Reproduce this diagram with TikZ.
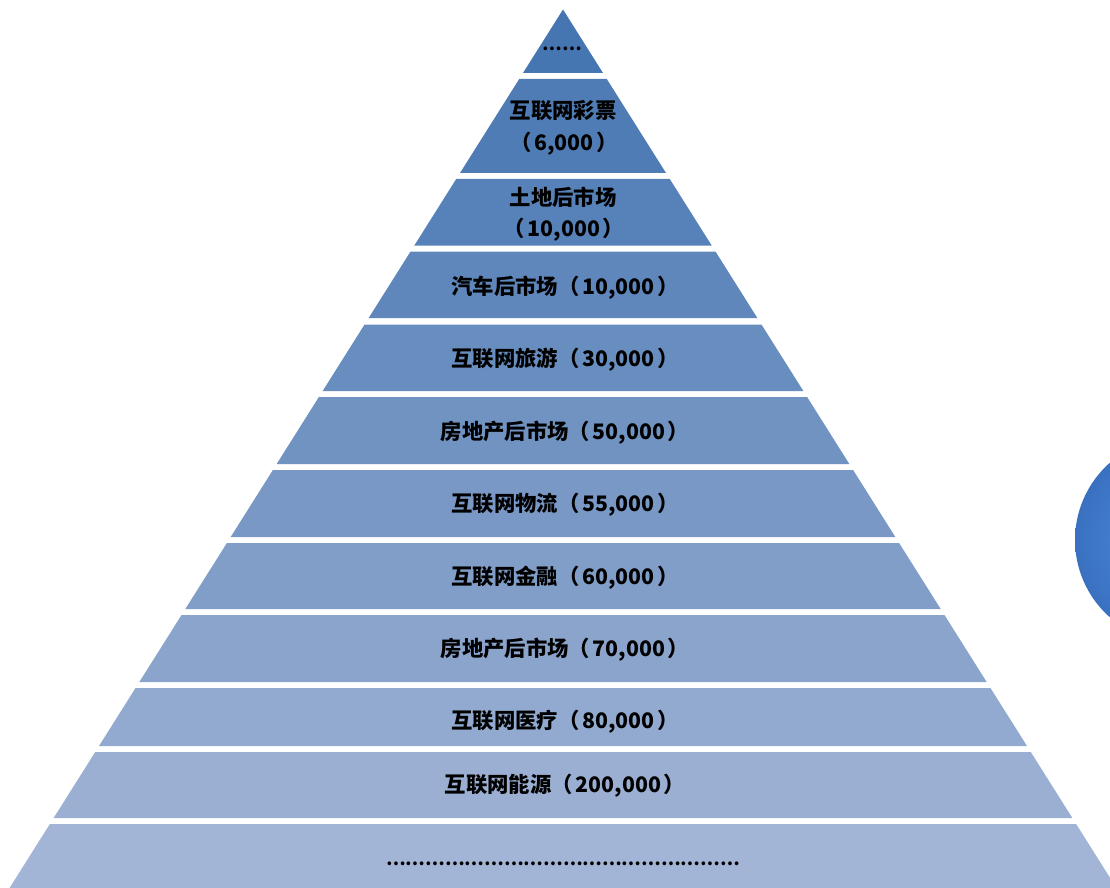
\documentclass[tikz,border=0pt]{standalone}
\usepackage{fontspec}
\setmainfont{Noto Sans CJK SC}
\definecolor{layertop}{RGB}{70,118,178}
\definecolor{layerbot}{RGB}{163,181,214}
\definecolor{ballin}{RGB}{82,146,224}
\definecolor{ballout}{RGB}{58,112,192}
\newcommand{\lp}{（\hspace{2pt}}
\newcommand{\rp}{\hspace{2pt}）}
\tikzset{
  lbl/.style={font=\bfseries\fontsize{16}{19}\selectfont, text=black, inner sep=0pt, anchor=center},
  dots/.style={font=\bfseries\fontsize{13.1}{16}\selectfont, text=black, inner sep=0pt, anchor=center},
}
\begin{document}
\begin{tikzpicture}[x=0.75pt,y=-0.75pt]
\useasboundingbox (0,0) rectangle (1110,888);
\clip (0,0) rectangle (1110,888);
% pyramid layers: index / top / bottom (y in px)
\foreach \i/\t/\b in {1/9.5/73, 2/79/173, 3/179/245.5, 4/251.5/318, 5/324.5/391,
  6/397/464, 7/470/537, 8/543/609, 9/615/682, 10/688/746, 11/752/818, 12/824/900} {
  \pgfmathsetmacro\wt{0.63*(\t-9.5)}
  \pgfmathsetmacro\wb{0.63*(\b-9.5)}
  \pgfmathsetmacro\p{(\i-1)*100/11}
  \fill[layerbot!\p!layertop] (563-\wt,\t) -- (563+\wt,\t) -- (563+\wb,\b) -- (563-\wb,\b) -- cycle;
}
% sphere at the right edge
\shade[inner color=ballin, outer color=ballout] (1178,540) circle[radius=103];
% labels
\node[dots] (l1)  at (562,49)  {……};
\node[lbl] (l2a) at (563,111) {互联网彩票};
\node[lbl] (l2b) at (564,144) {\lp 6,000\rp};
\node[lbl] (l3a) at (563,197) {土地后市场};
\node[lbl] (l3b) at (564,230) {\lp 10,000\rp};
\node[lbl] (l4)  at (565,288) {汽车后市场\lp 10,000\rp};
\node[lbl] (l5)  at (565,360) {互联网旅游\lp 30,000\rp};
\node[lbl] (l6)  at (565,433) {房地产后市场\lp 50,000\rp};
\node[lbl] (l7)  at (565,505) {互联网物流\lp 55,000\rp};
\node[lbl] (l8)  at (565,578) {互联网金融\lp 60,000\rp};
\node[lbl] (l9)  at (565,650) {房地产后市场\lp 70,000\rp};
\node[lbl] (l10) at (565,722) {互联网医疗\lp 80,000\rp};
\node[lbl] (l11) at (565,786) {互联网能源\lp 200,000\rp};
\node[dots] (l12) at (563,864) {………………………………………………};
\end{tikzpicture}
\end{document}
